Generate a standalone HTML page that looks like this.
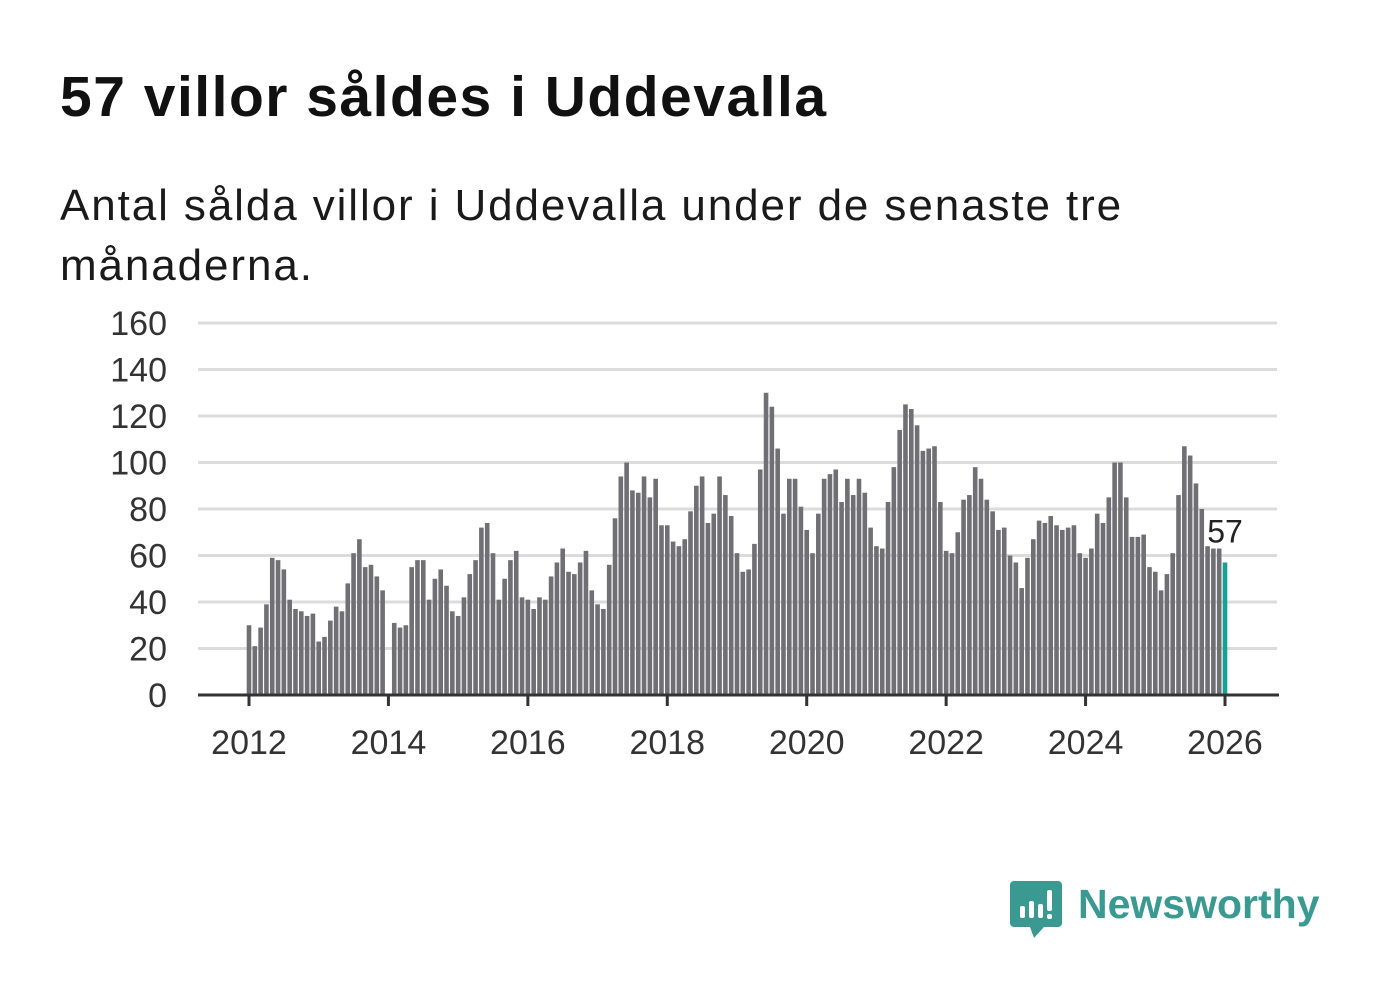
<!DOCTYPE html>
<html><head><meta charset="utf-8"><style>
body{margin:0;width:1382px;height:999px;background:#fff;font-family:"Liberation Sans",sans-serif;overflow:hidden;position:relative}
h1{position:absolute;left:60px;top:64px;margin:0;font-size:57px;font-weight:bold;color:#111;letter-spacing:1.5px}
.sub{position:absolute;left:60px;top:176px;margin:0;font-size:44px;line-height:60px;color:#1a1a1a;width:1140px;letter-spacing:1.9px}
svg{position:absolute;left:0;top:0}
</style></head><body>
<h1>57 villor såldes i Uddevalla</h1>
<p class="sub">Antal sålda villor i Uddevalla under de senaste tre månaderna.</p>
<svg id="chart" width="1382" height="999"></svg>
<script>
const startYear = 2012;
const yTicks = [0,20,40,60,80,100,120,140,160];
const xTickYears = [2012,2014,2016,2018,2020,2022,2024,2026];
const values = [
30,21,29,39,59,58,54,41,37,36,34,35,
23,25,32,38,36,48,61,67,55,56,51,45,
0,31,29,30,55,58,58,41,50,54,47,36,
34,42,52,58,72,74,61,41,50,58,62,42,
41,37,42,41,51,57,63,53,52,57,62,45,
39,37,56,76,94,100,88,87,94,85,93,73,
73,66,64,67,79,90,94,74,78,94,86,77,
61,53,54,65,97,130,124,106,78,93,93,81,
71,61,78,93,95,97,83,93,86,93,87,72,
64,63,83,98,114,125,123,116,105,106,107,83,
62,61,70,84,86,98,93,84,79,71,72,60,
57,46,59,67,75,74,77,73,71,72,73,61,
59,63,78,74,85,100,100,85,68,68,69,55,
53,45,52,61,86,107,103,91,80,64,63,63,
57];
const NS="http://www.w3.org/2000/svg";
const svg=document.getElementById('chart');
const x0=249, pxPerMonth=(1225-249)/168;
const xs=i=>x0+i*pxPerMonth;
const ys=v=>695-v*(695-323)/160;
function el(t,a){const e=document.createElementNS(NS,t);for(const k in a)e.setAttribute(k,a[k]);svg.appendChild(e);return e;}
yTicks.forEach(t=>{
  if(t>0){const g=el('line',{x1:198,x2:1277,y1:ys(t),y2:ys(t),stroke:'#dcdcdc','stroke-width':3});
  
  }
  const l=el('text',{x:167,y:ys(t)+12,'text-anchor':'end','font-size':34,fill:'#333','font-family':'Liberation Sans, sans-serif'});
  l.textContent=t;
  
  
});
values.forEach((v,i)=>{
  const last=i===values.length-1;
  const r=el('rect',{x:xs(i)-2.3,y:ys(v),width:4.6,height:695-ys(v),fill:last?'#17a096':'#706f74'});
  
  
});
const ax=el('line',{x1:198,x2:1279,y1:695,y2:695,stroke:'#333','stroke-width':3});


xTickYears.forEach(y=>{
  const x=xs((y-startYear)*12);
  const t=el('line',{x1:x,x2:x,y1:695,y2:706,stroke:'#333','stroke-width':3});
  
  
  const l=el('text',{x:x,y:754,'text-anchor':'middle','font-size':34,fill:'#333','font-family':'Liberation Sans, sans-serif'});
  l.textContent=y;
  
  
});
const lv=values[values.length-1];
const lab=el('text',{x:xs(values.length-1),y:ys(lv)-20,'text-anchor':'middle','font-size':32,fill:'#222',stroke:'#fff','stroke-width':6,'paint-order':'stroke','font-family':'Liberation Sans, sans-serif'});
lab.textContent=lv;


</script>
<svg width="1382" height="999" style="pointer-events:none">
<path d="M1014 881 h44 a4 4 0 0 1 4 4 v38 a4 4 0 0 1 -4 4 h-14 l-10 11 l-4 -11 h-16 a4 4 0 0 1 -4 -4 v-38 a4 4 0 0 1 4 -4z" fill="#3a9a91"/>
<rect x="1020" y="906" width="5" height="12" rx="2" fill="#fff"/>
<rect x="1029" y="901" width="5" height="17" rx="2" fill="#fff"/>
<rect x="1038" y="904" width="5" height="14" rx="2" fill="#fff"/>
<rect x="1047" y="890" width="5" height="21" rx="2" fill="#fff"/>
<rect x="1047" y="914" width="5" height="5" rx="2" fill="#fff"/>
<text x="1078" y="918" font-size="41" font-weight="bold" fill="#3a9a91" font-family="Liberation Sans, sans-serif">Newsworthy</text>
</svg>
</body></html>
